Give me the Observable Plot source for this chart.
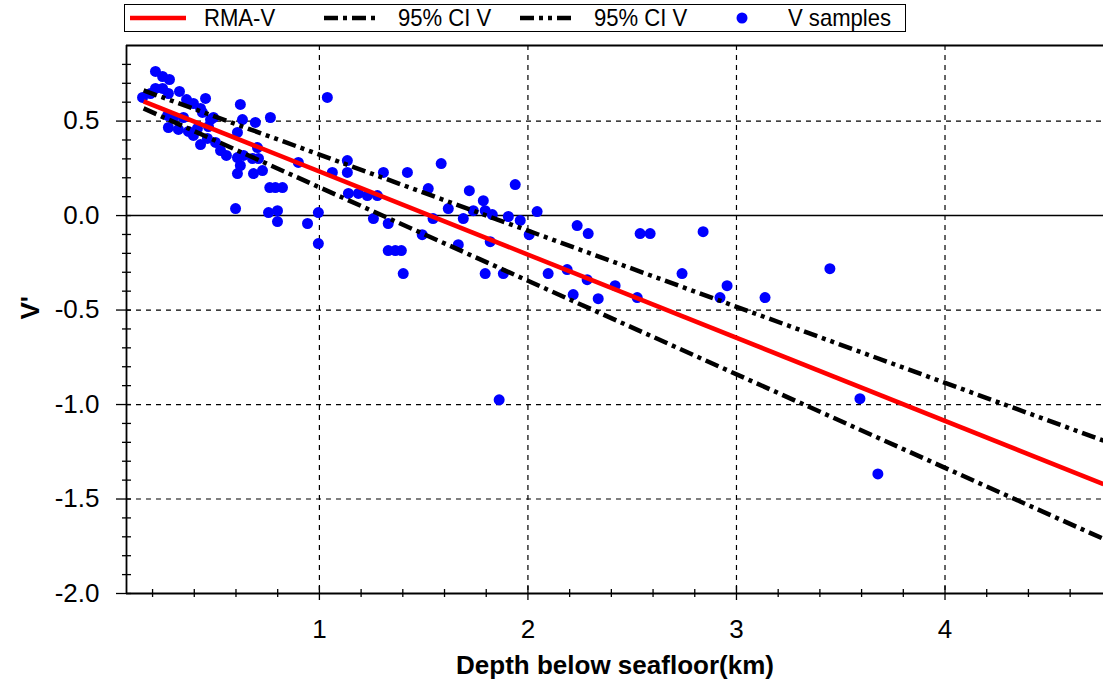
<!DOCTYPE html>
<html>
<head>
<meta charset="utf-8">
<script src="https://cdn.jsdelivr.net/npm/d3@7"></script>
<script src="https://cdn.jsdelivr.net/npm/@observablehq/plot@0.6"></script>
<style>
  html, body { margin: 0; padding: 0; background: #fff; }
  body { width: 1103px; height: 690px; overflow: hidden; font-family: "Liberation Sans", Arial, sans-serif; }
  #legend { position: relative; height: 40px; }
  #legend .box { position: absolute; left: 124px; top: 4px; width: 782px; height: 28px; border: 1.5px solid #000; box-sizing: border-box; }
  #legend .item { position: absolute; top: 0; height: 25px; display: flex; align-items: center; font-size: 24px; color: #000; white-space: nowrap; }
  #legend .item span { display: inline-block; transform: scaleX(0.92); transform-origin: left center; }
  #legend svg { display: block; }
</style>
</head>
<body>
<div id="legend"></div>
<div id="chart"></div>
<script>
// ---- data ----
const sampleDepth = [
  0.152, 0.214, 0.248, 0.281, 0.214, 0.248, 0.276, 0.329, 0.190, 0.363,
  0.396, 0.454, 0.430, 0.272, 0.300, 0.348, 0.276, 0.324, 0.372, 0.415,
  0.478, 0.439, 0.468, 0.430, 0.463, 0.492, 0.502, 0.526, 0.554, 0.607,
  0.636, 0.621, 0.631, 0.693, 0.765, 0.607, 0.396, 0.703, 0.679, 0.708,
  0.621, 0.607, 0.684, 0.727, 0.789, 0.823, 0.762, 0.598, 0.756, 0.799,
  0.799, 0.899, 0.943, 0.995, 0.995, 1.038, 1.062, 1.134, 1.134, 1.139,
  1.187, 1.230, 1.278, 1.307, 1.422, 1.259, 1.330, 1.330, 1.364, 1.393,
  1.402, 1.493, 1.522, 1.584, 1.545, 1.618, 1.719, 1.666, 1.690, 1.738,
  1.786, 1.795, 1.829, 1.819, 1.795, 1.882, 1.862, 1.906, 1.939, 1.963,
  2.006, 2.044, 2.097, 2.188, 2.217, 2.236, 2.284, 2.289, 2.337, 2.418,
  2.524, 2.538, 2.586, 2.739, 2.840, 2.921, 2.955, 3.137, 3.448, 3.592,
  3.678
];
const sampleV = [
  0.625, 0.763, 0.736, 0.720, 0.673, 0.673, 0.646, 0.657, 0.646, 0.614,
  0.593, 0.620, 0.567, 0.530, 0.519, 0.519, 0.466, 0.456, 0.445, 0.461,
  0.508, 0.546, 0.471, 0.376, 0.408, 0.519, 0.387, 0.344, 0.318, 0.307,
  0.318, 0.588, 0.508, 0.493, 0.519, 0.440, 0.424, 0.360, 0.302, 0.302,
  0.265, 0.222, 0.222, 0.238, 0.148, 0.148, 0.148, 0.037, 0.016, 0.026,
  -0.032, 0.281, -0.042, 0.016, -0.148, 0.625, 0.228, 0.291, 0.228, 0.117,
  0.117, 0.106, 0.106, 0.228, 0.228, -0.016, -0.042, -0.185, -0.185, -0.185,
  -0.307, -0.101, 0.143, 0.275, -0.016, 0.037, 0.132, -0.154, -0.016, 0.026,
  0.079, 0.026, 0.005, -0.138, -0.307, -0.307, -0.975, -0.005, 0.164, -0.026,
  -0.101, 0.021, -0.307, -0.286, -0.418, -0.053, -0.339, -0.095, -0.440, -0.371,
  -0.434, -0.095, -0.095, -0.307, -0.085, -0.434, -0.371, -0.434, -0.281, -0.969,
  -1.367
];
const fitDepth = [0.157, 4.76];
const rmaV = [0.604, -1.421];
const ciUpperV = [0.662, -1.191];
const ciLowerV = [0.567, -1.711];

const xDomain = [0.075, 4.76];
const yDomain = [-2.0, 0.9];
const xMajorTicks = [1, 2, 3, 4];
const xMinorTicks = [0.2, 0.4, 0.6, 0.8, 1.2, 1.4, 1.6, 1.8, 2.2, 2.4, 2.6, 2.8, 3.2, 3.4, 3.6, 3.8, 4.2, 4.4, 4.6];
const yMajorTicks = [-2.0, -1.5, -1.0, -0.5, 0.0, 0.5];
const yMinorTicks = [-1.9, -1.8, -1.7, -1.6, -1.4, -1.3, -1.2, -1.1, -0.9, -0.8, -0.7, -0.6, -0.4, -0.3, -0.2, -0.1, 0.1, 0.2, 0.3, 0.4, 0.6, 0.7, 0.8];
const yGridTicks = [-1.5, -1.0, -0.5, 0.5];

const legendLabels = ["RMA-V", "95% CI V", "95% CI V", "V samples"];
const xTitle = "Depth below seafloor(km)";
const yTitle = "V'";

// ---- styles ----
const FONT = "'Liberation Sans', Arial, sans-serif";
const RED = "#ff0000";
const BLUE = "#0000ff";
const DASH_DOT = "14,5,4,5";
const DASH_DOT_DOT = "14,5,4,5,4,5";
const LW = 4.5;

// ---- tables ----
const samples = sampleDepth.map((d, i) => ({depth: d, v: sampleV[i]}));
const fit = fitDepth.map((d, i) => ({depth: d, rma: rmaV[i], up: ciUpperV[i], lo: ciLowerV[i]}));

const chart = Plot.plot({
  width: 1103,
  height: 650,
  marginTop: 5,
  marginLeft: 126,
  marginRight: 0,
  marginBottom: 97,
  style: {fontFamily: FONT, fontSize: "26px", color: "#000", background: "#fff"},
  x: {domain: xDomain},
  y: {domain: yDomain},
  marks: [
    Plot.gridX(xMajorTicks, {stroke: "#000", strokeOpacity: 1, strokeWidth: 1.2, strokeDasharray: "5,5"}),
    Plot.gridY(yGridTicks, {stroke: "#000", strokeOpacity: 1, strokeWidth: 1.2, strokeDasharray: "5,5"}),
    Plot.ruleY([0], {stroke: "#000", strokeWidth: 1.5}),
    Plot.dot(samples, {x: "depth", y: "v", r: 5.5, fill: BLUE, stroke: null}),
    Plot.line(fit, {x: "depth", y: "lo", stroke: "#000", strokeWidth: LW, strokeDasharray: DASH_DOT, strokeLinecap: "butt", clip: true}),
    Plot.line(fit, {x: "depth", y: "up", stroke: "#000", strokeWidth: LW, strokeDasharray: DASH_DOT_DOT, strokeLinecap: "butt", clip: true}),
    Plot.line(fit, {x: "depth", y: "rma", stroke: RED, strokeWidth: LW, strokeLinecap: "butt", clip: true}),
    // frame lines (left, top, bottom)
    Plot.ruleX([xDomain[0]], {stroke: "#000", strokeWidth: 1.8}),
    Plot.ruleY([yDomain[0], yDomain[1]], {stroke: "#000", strokeWidth: 1.8}),
    // x ticks crossing the axis
    Plot.axisX(xMajorTicks, {tickSize: 14, dy: -7, text: null, label: null, strokeWidth: 1.3}),
    Plot.axisX(xMinorTicks, {tickSize: 8, dy: -4, text: null, label: null, strokeWidth: 1.3}),
    Plot.axisX(xMajorTicks, {tickSize: 0, tickPadding: 26, fontSize: 26, label: null, tickFormat: d => String(d)}),
    // y ticks
    Plot.axisY(yMajorTicks, {tickSize: 15, dx: 5, text: null, label: null, strokeWidth: 1.3}),
    Plot.axisY(yMinorTicks, {tickSize: 9, dx: 5, text: null, label: null, strokeWidth: 1.3}),
    Plot.axisY(yMajorTicks, {tickSize: 0, tickPadding: 27, fontSize: 26, label: null, tickFormat: d => d.toFixed(1)}),
    // titles
    Plot.text([xTitle], {frameAnchor: "bottom", dy: 80, fontSize: 26, fontWeight: "bold", fill: "#000"}),
    Plot.text([yTitle], {frameAnchor: "left", dx: -96, rotate: -90, fontSize: 26, fontWeight: "bold", fill: "#000"})
  ]
});
document.getElementById("chart").appendChild(chart);

// ---- legend ----
const legend = document.getElementById("legend");
const box = document.createElement("div");
box.className = "box";
legend.appendChild(box);
const ns = "http://www.w3.org/2000/svg";
function sample(kind) {
  const s = document.createElementNS(ns, "svg");
  s.setAttribute("width", 56); s.setAttribute("height", 14);
  if (kind === "dot") {
    const c = document.createElementNS(ns, "circle");
    c.setAttribute("cx", 28); c.setAttribute("cy", 7); c.setAttribute("r", 5.5); c.setAttribute("fill", BLUE);
    s.appendChild(c);
  } else {
    const l = document.createElementNS(ns, "line");
    l.setAttribute("x1", 0); l.setAttribute("x2", 56); l.setAttribute("y1", 7); l.setAttribute("y2", 7);
    l.setAttribute("stroke-width", LW);
    l.setAttribute("stroke", kind === "red" ? RED : "#000");
    if (kind === "dd") l.setAttribute("stroke-dasharray", DASH_DOT);
    if (kind === "ddd") l.setAttribute("stroke-dasharray", DASH_DOT_DOT);
    s.appendChild(l);
  }
  return s;
}
const kinds = ["red", "dd", "ddd", "dot"];
const sampleLeft = [5, 199, 395, 589];
legendLabels.forEach((lab, i) => {
  const it = document.createElement("div");
  it.className = "item";
  it.style.left = sampleLeft[i] + "px";
  it.appendChild(sample(kinds[i]));
  const t = document.createElement("span");
  t.textContent = lab;
  t.style.marginLeft = "18px";
  it.appendChild(t);
  box.appendChild(it);
});
</script>
</body>
</html>
